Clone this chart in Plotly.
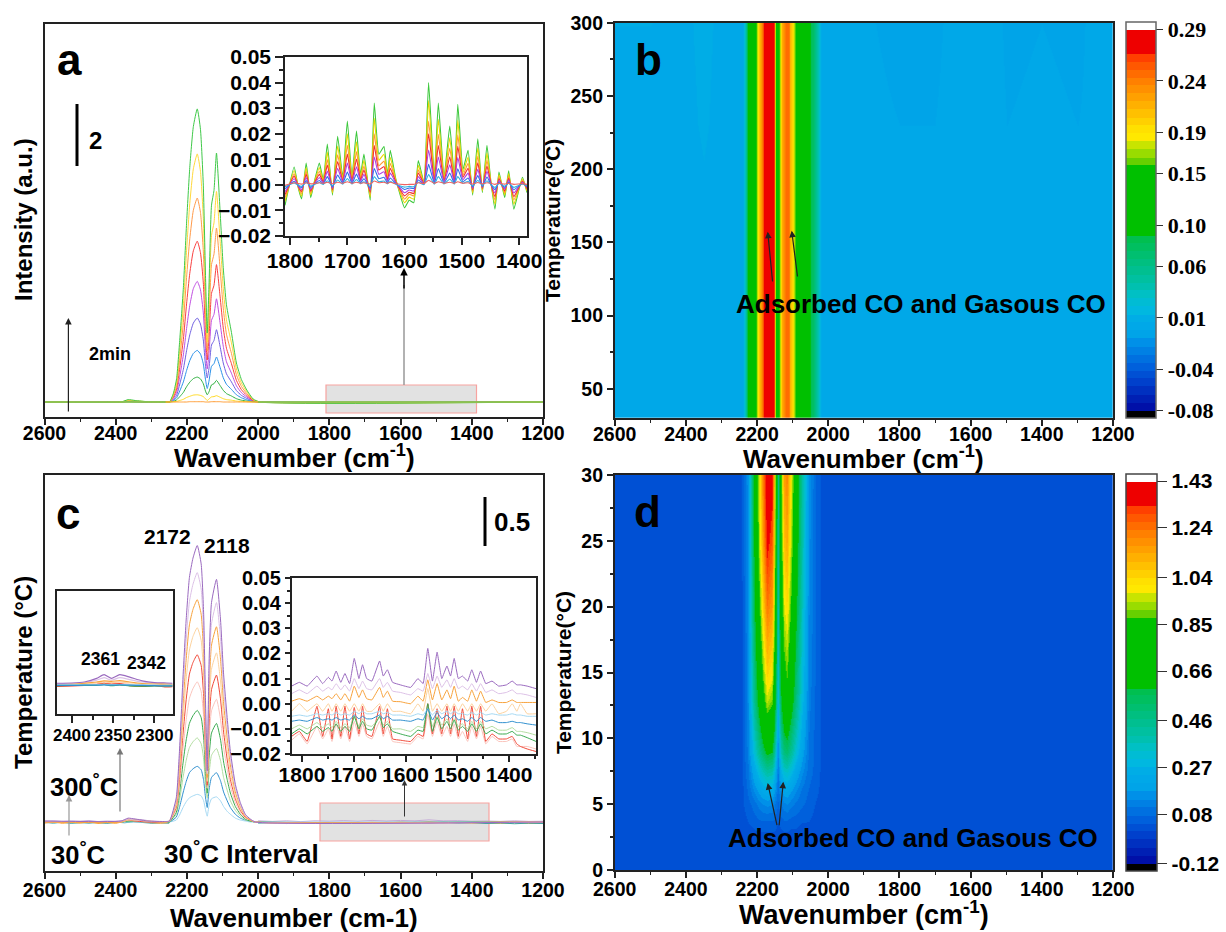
import numpy as np
import plotly.graph_objects as go

W, H = 1226, 932
SANS = "Liberation Sans"
SERIF = "Liberation Serif"

# ---------- panel a, main spectra ----------
WN_A = [2600,2385,2365,2345,2310,2260,2249,2238,2229,2220,2210,2201,2192,2182,2171,2162,2154,2148,2143,2138,2131,2124,2117,2107,2098,2089,2075,2061,2047,2032,2014,1995,1200]
A_GREEN  = [0,0,.08,.05,.01,0,0,.29,.78,2.1,3.81,5.96,7.82,9.18,9.77,9.09,7.23,4.3,2.3,3.9,6.56,7.05,8.3,6.39,4.48,3.24,2.32,1.3,.75,.4,.1,0,0]
A_YELLOW = [0,0,.06,.04,.01,0,0,.25,.66,1.78,3.23,5.04,6.62,7.77,8.27,7.69,6.12,3.64,2,3.3,5.55,5.97,7.02,5.41,3.79,2.74,1.97,1.1,.63,.34,.08,0,0]
A_ORANGE = [0,0,.05,.03,.01,0,0,.2,.54,1.46,2.65,4.15,5.44,6.39,6.8,6.32,5.03,2.99,1.7,2.73,4.58,4.93,5.8,4.47,3.13,2.26,1.62,.91,.52,.28,.07,0,0]
A_RED    = [0,0,.04,.02,0,0,0,.16,.43,1.15,2.09,3.27,4.29,5.04,5.36,4.98,3.97,2.36,1.4,2.15,3.62,3.89,4.58,3.53,2.47,1.79,1.28,.72,.41,.22,.05,0,0]
A_PURPLE = [0,0,.03,.02,0,0,0,.12,.32,.86,1.57,2.45,3.22,3.78,4.02,3.74,2.97,1.77,1.1,1.62,2.72,2.92,3.44,2.65,1.86,1.34,.96,.54,.31,.17,.04,0,0]
A_VIOLET = [0,0,.02,.01,0,0,0,.08,.22,.6,1.09,1.71,2.24,2.63,2.8,2.6,2.07,1.23,.8,1.13,1.9,2.05,2.41,1.86,1.3,.94,.67,.38,.22,.12,.03,0,0]
A_BLUE   = [0,0,.01,.01,0,0,0,.05,.14,.37,.67,1.05,1.38,1.62,1.72,1.6,1.27,.76,.45,.7,1.19,1.28,1.5,1.16,.81,.59,.42,.24,.14,.07,.02,0,0]
A_GREEN2 = [0,0,.01,0,0,0,0,.02,.07,.18,.32,.51,.66,.78,.83,.77,.61,.37,.24,.34,.57,.61,.72,.55,.39,.28,.2,.11,.06,.03,.01,0,0]
A_YELL2  = [0,0,0,0,0,0,0,.01,.02,.05,.09,.15,.19,.23,.24,.22,.18,.11,.05,.1,.17,.18,.21,.16,.11,.08,.06,.03,.02,.01,0,0,0]
A_ORANGE2 = [0,0,0,0,0,0,0,0,0,0,0,0,.01,.01,.01,.01,.01,0,0,0,.01,.01,.01,.01,0,0,0,0,0,0,0,0,0]
A_SERIES = [A_BLUE,A_VIOLET,A_PURPLE,A_RED,A_ORANGE,A_GREEN2,A_YELLOW,A_GREEN,A_YELL2,A_ORANGE2]
A_COLORS = ["#2a90e8","#7060e0","#c050e0","#f84040","#ff9a4a","#30b040","#ffd83c","#3fc848","#ffd820","#ff9a30"]
A_BASE_X = [2600,2260,None,2000,1200]
A_BASE_Y = [0,0,None,0,0]

# ---------- panel a, inset (values in 0.001 units) ----------
WN_INS_A = [1809,1793,1785,1780,1772,1764,1758,1749,1742,1735,1726,1717,1708,1700,1692,1684,1677,1671,1660,1653,1645,1636,1630,1625,1615,1600,1592,1584,1576,1566,1558,1548,1541,1531,1521,1513,1507,1498,1489,1481,1472,1464,1456,1449,1442,1435,1425,1418,1409,1394,1386]
IA_GREEN  = [-8,7,-2,-5.5,8.5,-5,1,8.5,2,16,-4,19,3,25,3,21,4,12,-6,32,12,15,4,13.5,2,-9,-6,-7,9.5,1,40,3,32,3,23,3,31.5,6,13.5,-4,18,-3,15.5,1,-9.5,5,-5,5.5,-9.5,3,-3]
IA_YELLOW = [-6.5,5.6,-1.6,-4.4,6.8,-4,.8,6.8,1.6,12.8,-3.2,15.2,2.4,20,2.4,16.8,3.2,9.6,-4.8,26,9.6,12,3.2,10.8,1.6,-7,-4.8,-5.6,7.6,.8,33,2.4,25.6,2.4,18.4,2.4,25.2,4.8,10.8,-3.2,14.4,-2.4,12.4,.8,-7.6,4,-4,4.4,-7.6,2.4,-2.4]
IA_ORANGE = [-5,4.3,-1.2,-3.4,5.3,-3.1,.6,5.3,1.2,9.9,-2.5,11.8,1.9,15.5,1.9,13,2.5,7.4,-3.7,20,7.4,9.3,2.5,8.4,1.2,-5.6,-3.7,-4.3,5.9,.6,25,1.9,19.8,1.9,14.3,1.9,19.5,3.7,8.4,-2.5,11.2,-1.9,9.6,.6,-5.9,3.1,-3.1,3.4,-5.9,1.9,-1.9]
IA_RED    = [-3.8,3.4,-1,-2.6,4.1,-2.4,.5,4.1,1,7.7,-1.9,9.1,1.4,12,1.4,10.1,1.9,5.8,-2.9,15.4,5.8,7.2,1.9,6.5,1,-4.3,-2.9,-3.4,4.6,.5,20,1.4,15.4,1.4,11,1.4,15.1,2.9,6.5,-1.9,8.6,-1.4,7.4,.5,-4.6,2.4,-2.4,2.6,-4.6,1.4,-1.4]
IA_PURPLE = [-2.7,2.4,-.7,-1.9,2.9,-1.7,.3,2.9,.7,5.4,-1.4,6.5,1,8.5,1,7.1,1.4,4.1,-2,10.9,4.1,5.1,1.4,4.6,.7,-3.1,-2,-2.4,3.2,.3,13.6,1,10.9,1,7.8,1,10.7,2,4.6,-1.4,6.1,-1,5.3,.3,-3.2,1.7,-1.7,1.9,-3.2,1,-1]
IA_BLUE   = [-1.6,1.4,-.4,-1.1,1.7,-1,.2,1.7,.4,3.2,-.8,3.8,.6,5,.6,4.2,.8,2.4,-1.2,6.4,2.4,3,.8,2.7,.4,-1.8,-1.2,-1.4,1.9,.2,8,.6,6.4,.6,4.6,.6,6.3,1.2,2.7,-.8,3.6,-.6,3.1,.2,-1.9,1,-1,1.1,-1.9,.6,-.6]
IA_GREEN2 = [-.8,.7,-.2,-.6,.9,-.5,.1,.9,.2,1.6,-.4,1.9,.3,2.5,.3,2.1,.4,1.2,-.6,3.2,1.2,1.5,.4,1.4,.2,-.9,-.6,-.7,1,.1,4,.3,3.2,.3,2.3,.3,3.2,.6,1.4,-.4,1.8,-.3,1.6,.1,-1,.5,-.5,.6,-1,.3,-.3]
IA_REDLOW = [-.2,.8,.5,.3,.8,.4,.5,.8,.6,1,.4,1,.6,1.2,.6,1,.6,.8,.3,1.5,.8,1,.6,1,.4,.1,.2,.2,.8,.5,1.8,.6,1.2,.6,1,.6,1.2,.6,.8,.3,.9,.4,.8,.6,.2,.6,.3,.6,.2,.5,.2]
IA_SERIES = [IA_GREEN,IA_YELLOW,IA_ORANGE,IA_RED,IA_PURPLE,IA_BLUE,IA_GREEN2,IA_REDLOW]
IA_COLORS = ["#3cc83c","#e8d800","#ff9a30","#f03030","#b040e0","#3070e8","#30b0e0","#f06060"]

# ---------- panel c, main spectra ----------
WN_C = [2600,2385,2365,2345,2310,2260,2249,2230,2221,2211,2202,2193,2183,2171,2160,2153,2148,2143,2138,2131,2117,2106,2097,2087,2078,2064,2050,2036,2022,2008,1200]
C_PURPLE  = [.01,.01,.04,.03,.01,.005,.01,.25,.73,1.5,2.1,2.53,2.73,2.86,2.67,2.15,1.29,.53,1.63,2.27,2.51,2.11,1.53,1.08,.73,.39,.2,.08,.03,0,0]
C_LPURPLE = [.01,.01,.03,.02,.01,.005,.01,.22,.66,1.35,1.89,2.28,2.46,2.58,2.41,1.94,1.16,.5,1.48,2.05,2.27,1.91,1.38,.98,.66,.35,.18,.07,.03,0,0]
C_ORANGE  = [0,0,.03,.02,.01,0,.01,.2,.59,1.21,1.69,2.04,2.2,2.3,2.15,1.73,1.04,.46,1.31,1.83,2.02,1.7,1.23,.87,.59,.31,.16,.06,.02,0,0]
C_LORANGE = [0,0,.02,.02,.01,0,.01,.17,.51,1.05,1.48,1.78,1.92,2.01,1.88,1.51,.91,.42,1.14,1.58,1.75,1.47,1.07,.75,.51,.27,.14,.06,.02,0,0]
C_RED     = [0,0,.02,.01,0,0,.01,.15,.44,.91,1.27,1.53,1.65,1.73,1.62,1.3,.78,.38,.99,1.37,1.52,1.28,.93,.65,.44,.24,.12,.05,.02,0,0]
C_LRED    = [0,0,.02,.01,0,0,.01,.13,.37,.76,1.06,1.28,1.38,1.45,1.35,1.09,.65,.35,.83,1.15,1.27,1.07,.77,.55,.37,.2,.1,.04,.02,0,0]
C_GREEN   = [0,0,.01,.01,0,0,0,.1,.29,.61,.85,1.02,1.1,1.155,1.08,.87,.52,.3,.66,.92,1.02,.86,.62,.44,.3,.16,.08,.03,.01,0,0]
C_LGREEN  = [0,0,.01,.01,0,0,0,.08,.22,.46,.64,.77,.83,.87,.81,.65,.39,.25,.49,.69,.76,.64,.46,.33,.22,.12,.06,.02,.01,0,0]
C_BLUE    = [0,0,.01,.01,0,0,0,.05,.15,.3,.42,.51,.55,.576,.54,.43,.26,.15,.33,.46,.51,.43,.31,.22,.15,.08,.04,.02,.01,0,0]
C_LBLUE   = [0,0,0,0,0,0,0,.02,.07,.15,.21,.25,.27,.286,.27,.22,.13,.06,.17,.24,.26,.22,.16,.11,.08,.04,.02,.01,0,0,0]
C_SERIES = [C_LBLUE,C_BLUE,C_LGREEN,C_GREEN,C_LRED,C_RED,C_LORANGE,C_ORANGE,C_LPURPLE,C_PURPLE]
C_COLORS = ["#a5d8f2","#2f8fce","#b2dda0","#3aaa50","#fac4bc","#f04a3a","#fcd29e","#f7a23c","#dcc0e6","#9a6abf"]
NOISE_X = [2600,2575,2550,2525,2500,2475,2450,2425,2400,2375,2350,2325,2300,2275,2250,None,2000,1960,1920,1880,1840,1800,1760,1720,1680,1640,1600,1560,1520,1480,1440,1400,1360,1320,1280,1240,1200]
NOISE_1 = [-.012,.002,-.014,-.004,-.012,.002,-.016,-.006,-.014,.006,.012,.01,-.01,-.014,-.008,None,-.004,-.012,-.006,-.014,-.004,-.012,-.006,-.012,-.002,-.01,0,-.008,.004,-.008,-.004,-.012,-.01,-.014,-.008,-.014,-.012]
NOISE_2 = [.006,.012,.004,.012,.008,.016,.004,.01,.006,.02,.03,.024,.008,.004,.006,None,.012,.006,.012,.004,.012,.008,.014,.008,.016,.01,.016,.012,.022,.012,.014,.008,.01,.006,.012,.006,.008]
NOISE_3 = [-.004,-.012,-.002,-.014,-.006,-.012,-.004,-.014,-.002,-.008,.002,-.006,-.012,-.006,-.012,None,-.012,-.006,-.016,-.008,-.014,-.006,-.014,-.004,-.012,-.004,-.014,-.004,-.01,-.002,-.012,-.006,-.016,-.01,-.018,-.012,-.016]

# ---------- panel c, right inset (values in 0.001 units) ----------
WN_INS_C = [1820,1805,1790,1771,1760,1749,1742,1734,1725,1717,1708,1699,1690,1683,1675,1665,1650,1643,1635,1625,1610,1590,1576,1566,1557,1548,1539,1530,1520,1513,1506,1498,1490,1480,1472,1463,1455,1445,1433,1420,1405,1394,1385,1378,1365,1348]
IC_PURPLE  = [7,8.5,7,11,8,10.5,9,13,8.5,12,8,18,10,15.5,10,9,17,11,13.5,8.5,7.5,6.5,10,8,22,9,20.5,10,15,11,18,10,11,9,13.5,8.5,13,8,9,7,7.5,9,7.5,7.5,7,6]
IC_LPURPLE = [4,5.5,4,7,5,6.5,5.5,8,5.5,7.5,5,10,6,9,6,5.5,10,6.5,8.5,5,4.5,3.5,6,5,12,6,11,6.5,9.5,6.5,10,6,7,5.5,8,5,8,4.5,5.5,4,4.5,5.5,4,4,3.5,2.5]
IC_ORANGE  = [1,2,1,3,1.5,3,2,4,1.5,4,1,7,2.5,5.5,2,1.5,6.5,2.5,5,1,.8,0,3,1,9.5,1.5,8,1.5,5.5,2,7,1,2.5,1,5.5,1,5,.5,1.5,.5,.5,1.5,.5,.5,.5,.5]
IC_LORANGE = [-3,0,-3,0,-3,0,-3,0,-3,0,-3,0,-3,0,-3,-3,0,-3,0,-3,-3,-4,0,-3,6,-3,0,-3,0,-3,0,-3,0,-3,0,-3,0,-3,0,-4,-3,0,-3,0,-4,-4]
IC_LBLUE   = [-5,-4.5,-5,-4,-4.5,-4,-4.5,-3.5,-4.5,-4,-4.5,-3,-4,-3,-4,-4,-3,-4,-3.5,-4.5,-4.5,-5,-4,-4.5,-2,-4.5,-2.5,-4,-3,-4,-3,-4,-4,-4.5,-3.5,-4.5,-3.5,-4.5,-4,-4.5,-4.5,-4,-4.5,-4.5,-5,-5]
IC_BLUE    = [-7,-6.5,-7,-5.5,-6.5,-6,-6.5,-5.5,-6.5,-6,-6.5,-4.5,-6,-5,-6,-6,-4.5,-6,-5,-6.5,-6.5,-7,-6,-6.5,-2,-6.5,-3.5,-6,-4.5,-6,-4.5,-6.5,-6,-7,-5.5,-7,-5.5,-7,-6.5,-7.5,-7.5,-7,-7.5,-7.5,-8,-8.5]
IC_LGREEN  = [-10,-8.5,-10,-7.5,-9.5,-8,-9.5,-7,-9.5,-8,-9.5,-5.5,-9,-6,-8.5,-9,-5.5,-8.5,-7,-10,-10,-11,-9,-9.5,-1.5,-9,-5,-8.5,-6,-8.5,-6,-9,-8,-10,-7,-10,-7,-10,-9,-10.5,-10.5,-9.5,-11,-11,-11.5,-12.5]
IC_GREEN   = [-12,-10,-12,-9,-11,-9.5,-11,-8,-11,-9,-11,-5,-10,-7,-10,-10.5,-5,-9.5,-8,-11,-12,-13,-10.5,-11,0,-11,-5.5,-10,-7,-10,-6.5,-10.5,-9,-11,-8,-11,-8,-12,-10.5,-12,-12,-11,-12.5,-12.5,-13.5,-15]
IC_RED     = [-13,-11,-15,-1,-13,-2,-14,-1,-13,-1,-14,-1.5,-12,-1,-12,-13,-1,-12,-2,-14,-14.5,-15,-12,-13,0,-12,-2,-12,-1,-12,-1,-13,-2,-14,-1,-13,-1,-15,-12,-14,-14,-13,-16,-17,-18,-19]
IC_LRED    = [-14.5,-12,-16,-9,-14,-10,-15,-8,-14,-9,-15,-7,-13,-8,-13,-14,-7,-13,-9,-15,-15.5,-16,-13,-14,-4,-13,-7,-13,-9,-13,-8,-14,-11,-15,-9,-14,-9,-16,-13,-15,-15,-14,-17,-17,-17,-18]
IC_SERIES = [IC_LORANGE,IC_LRED,IC_RED,IC_LGREEN,IC_GREEN,IC_LBLUE,IC_BLUE,IC_LPURPLE,IC_ORANGE,IC_PURPLE]
IC_COLORS = ["#fcd29e","#fac4bc","#f04a3a","#b2dda0","#3aaa50","#a5d8f2","#2f8fce","#dcc0e6","#f7a23c","#9a6abf"]

# ---------- panel c, left inset ----------
WN_INS_L = [2418,2400,2385,2370,2361,2352,2342,2330,2315,2300,2285,2278]
IL_PURPLE  = [.01,.012,.02,.05,.08,.05,.08,.06,.03,.015,.012,.01]
IL_LPURPLE = [.005,.008,.014,.035,.055,.035,.055,.04,.02,.01,.008,.006]
IL_ORANGE  = [0,.002,.01,.02,.03,.025,.032,.02,.008,.004,.002,0]
IL_LORANGE = [-.003,0,.005,.012,.02,.015,.02,.012,.004,0,0,-.002]
IL_RED     = [-.015,-.012,-.008,0,.01,.002,.008,-.01,-.015,-.01,-.02,-.018]
IL_LRED    = [-.012,-.01,-.005,.004,.012,.005,.012,0,-.01,-.006,-.012,-.012]
IL_GREEN   = [-.01,-.008,-.006,-.008,0,-.01,-.004,-.012,-.014,-.012,-.012,-.012]
IL_LGREEN  = [-.007,-.006,-.003,-.004,.004,-.004,0,-.008,-.008,-.008,-.01,-.008]
IL_BLUE    = [-.008,-.007,-.006,-.005,-.004,-.006,-.004,-.006,-.008,-.01,-.012,-.012]
IL_LBLUE   = [-.004,-.004,-.002,-.002,0,-.002,0,-.002,-.004,-.006,-.006,-.006]
IL_SERIES = [IL_LPURPLE,IL_PURPLE,IL_LORANGE,IL_ORANGE,IL_LRED,IL_RED,IL_LGREEN,IL_GREEN,IL_LBLUE,IL_BLUE]
IL_COLORS = ["#dcc0e6","#9a6abf","#fcd29e","#f7a23c","#fac4bc","#f04a3a","#b2dda0","#3aaa50","#a5d8f2","#2f8fce"]

# ---------- panel b, map ----------
B_WN = [1200,1300,1400,1500,1600,1700,1800,1900,2015,2020,2030,2042,2055,2070,2090,2095,2100,2108,2112,2120,2131,2135,2138,2143,2147,2150,2152,2160,2175,2182,2185,2195,2200,2205,2225,2230,2235,2240,2245,2290,2350,2420,2500,2600]
B_TEMP = [30,170,230,300]
B_ROW_30  = [0,0,0,0,0,0,0,0,0,.01,.04,.07,.1,.12,.14,.16,.19,.22,.25,.25,.22,.19,.15,.12,.15,.19,.27,.285,.285,.27,.25,.2,.17,.13,.1,.07,.03,.005,0,0,0,0,0,0]
B_ROW_170 = [0,0,0,0,0,0,0,0,0,.01,.04,.07,.1,.12,.14,.16,.19,.22,.25,.25,.22,.19,.15,.12,.15,.19,.27,.285,.285,.27,.25,.2,.17,.13,.1,.07,.03,.005,0,0,.004,0,0,0]
B_ROW_230 = [0,-.002,-.001,-.002,.004,-.002,-.002,0,0,.01,.04,.07,.1,.12,.14,.16,.19,.22,.25,.25,.22,.19,.15,.12,.15,.19,.27,.285,.285,.27,.25,.2,.17,.13,.1,.07,.03,.005,0,.002,.007,.002,0,0]
B_ROW_300 = [.002,-.003,-.002,-.003,.005,-.004,-.004,-.001,0,.01,.04,.07,.1,.12,.14,.16,.19,.22,.25,.25,.22,.19,.15,.12,.15,.19,.27,.285,.285,.27,.25,.2,.17,.13,.1,.07,.03,.005,0,.003,.008,.003,.006,.006]
B_Z = [B_ROW_30,B_ROW_170,B_ROW_230,B_ROW_300]
B_TICKS = [-.08,-.04,.01,.06,.10,.15,.19,.24,.29]
B_TICKTEXT = ["-0.08","-0.04","0.01","0.06","0.10","0.15","0.19","0.24","0.29"]

# ---------- panel d, map ----------
D_WN = [1200,2005,2015,2035,2055,2075,2092,2105,2117,2125,2135,2143,2152,2160,2172,2185,2195,2210,2225,2240,2250,2600]
D_TIME = [0,2.5,3.5,5,6,7.5,9,11,13,15,20,25,30]
D_T0   = [.02,.02,.02,.02,.02,.02,.02,.02,.02,.02,.02,.02,.02,.02,.02,.02,.02,.02,.02,.02,.02,.02]
D_T2_5 = [.02,.02,.02,.02,.025,.025,.03,.03,.03,.03,.03,.025,.03,.03,.03,.03,.03,.03,.025,.02,.02,.02]
D_T3_5 = [.02,.02,.025,.03,.04,.04,.05,.05,.06,.06,.05,.04,.06,.06,.06,.06,.06,.05,.04,.03,.02,.02]
D_T5   = [.02,.02,.03,.04,.06,.08,.1,.12,.14,.13,.11,.07,.12,.14,.15,.14,.12,.09,.06,.04,.02,.02]
D_T6   = [.02,.02,.03,.05,.07,.1,.14,.18,.21,.2,.16,.09,.19,.23,.24,.22,.19,.14,.08,.04,.02,.02]
D_T7_5 = [.02,.02,.03,.06,.09,.15,.22,.3,.35,.33,.26,.11,.33,.4,.42,.37,.31,.22,.1,.05,.02,.02]
D_T9   = [.02,.02,.03,.06,.1,.2,.32,.44,.52,.49,.38,.15,.48,.59,.62,.54,.44,.31,.12,.05,.02,.02]
D_T11  = [.02,.02,.03,.06,.11,.25,.41,.56,.67,.63,.49,.22,.62,.76,.8,.69,.56,.38,.13,.05,.02,.02]
D_T13  = [.02,.02,.03,.06,.12,.3,.49,.68,.81,.76,.58,.28,.75,.91,.96,.82,.66,.44,.14,.05,.02,.02]
D_T15  = [.02,.02,.03,.07,.13,.32,.53,.74,.89,.83,.64,.32,.83,1,1.05,.9,.72,.47,.14,.05,.02,.02]
D_T20  = [.02,.02,.03,.07,.14,.37,.62,.86,1.03,.97,.74,.37,.97,1.17,1.23,1.05,.84,.55,.15,.05,.02,.02]
D_T25  = [.02,.02,.03,.07,.15,.41,.68,.95,1.14,1.08,.81,.41,1.08,1.29,1.36,1.16,.93,.6,.15,.06,.02,.02]
D_T30  = [.02,.02,.03,.07,.16,.43,.72,1,1.21,1.15,.86,.43,1.15,1.37,1.41,1.22,.97,.64,.16,.06,.02,.02]
D_Z = [D_T0,D_T2_5,D_T3_5,D_T5,D_T6,D_T7_5,D_T9,D_T11,D_T13,D_T15,D_T20,D_T25,D_T30]
D_TICKS = [-.12,.08,.27,.46,.66,.85,1.04,1.24,1.43]
D_TICKTEXT = ["-0.12","0.08","0.27","0.46","0.66","0.85","1.04","1.24","1.43"]

# shared stepped palette, bottom to top
BAND_EDGES = [1225,1203,1180,1155,1130,1105,1083,1060,1035,1012,985,962,938,915,890,866,842,820,795,770,748,725,700,680,468,445,420,395,370,348,325,300,275,252,228,205,182,158,135,62,38]
BAND_COLORS = ["#000000","#0010a8","#0020b4","#0030c0","#0040cc","#0050d4","#0060dc","#0070e0","#0080e4","#0090e8","#00a4e8","#00a8e8","#00ade6","#00b8e0","#00bcd4","#00c0c4","#00c0b0","#00c0a0","#00bf90","#00bf80","#00bf70","#00bf60","#00bf50","#00c000","#66d000","#99dc00","#c8e400","#ffe800","#ffe000","#ffd000","#ffc000","#ffb000","#ffa000","#ff9000","#ff8000","#ff6c00","#ff5800","#ff4000","#ee0000","#ffffff"]

span = BAND_EDGES[0] - BAND_EDGES[-1]
colorscale = []
for i, c in enumerate(BAND_COLORS):
    colorscale.append([(BAND_EDGES[0] - BAND_EDGES[i]) / span, c])
    colorscale.append([(BAND_EDGES[0] - BAND_EDGES[i + 1]) / span, c])


def px_x(x):
    return x / W


def px_y(y):
    return 1 - y / H


def dom_x(a, b):
    return [a / W, b / W]


def dom_y(top, bottom):
    return [1 - bottom / H, 1 - top / H]


def tickf(size, family=SANS):
    return dict(family=family, size=size, color="black", weight=700)


fig = go.Figure()


def add_lines(xs, series, colors, ax, width=1.0, smooth=0.0):
    for ys, col in zip(series, colors):
        line = dict(color=col, width=width, shape="spline" if smooth else "linear")
        if smooth:
            line["smoothing"] = smooth
        fig.add_trace(go.Scatter(x=xs, y=ys, mode="lines", xaxis=f"x{ax}", yaxis=f"y{ax}", line=line,
                                 showlegend=False, hoverinfo="skip"))


add_lines(WN_A, A_SERIES, A_COLORS, 1, 1.0, 0.5)
add_lines(A_BASE_X, [A_BASE_Y], ["#3fcf70"], 1, 1.2)
add_lines(WN_INS_A, [np.array(s) / 1000 for s in IA_SERIES], IA_COLORS, 2, 1.1, 0.4)
add_lines(NOISE_X, [NOISE_1, NOISE_2, NOISE_3], ["#f7a23c", "#c4a8d8", "#3aa0a0"], 4, 1.0)
add_lines(WN_C, C_SERIES, C_COLORS, 4, 1.0, 0.5)
add_lines(WN_INS_C, [np.array(s) / 1000 for s in IC_SERIES], IC_COLORS, 5, 1.0, 0.3)
add_lines(WN_INS_L, IL_SERIES, IL_COLORS, 6, 1.2, 0.5)

zmin_b = -.08 - (1225 - 1203) / (1203 - 60) * .37
zmax_b = .29 + (60 - 38) / (1203 - 60) * .37
fig.add_trace(go.Heatmap(x=B_WN, y=B_TEMP, z=B_Z, xaxis="x3", yaxis="y3", zmin=zmin_b, zmax=zmax_b,
                         colorscale=colorscale, zsmooth="best", hoverinfo="skip",
                         colorbar=dict(x=1126 / W, xanchor="left", y=1 - 418 / H, yanchor="bottom", yref="paper",
                                       lenmode="pixels", len=395.5, thicknessmode="pixels", thickness=30,
                                       xpad=0, ypad=0, tickvals=B_TICKS, ticktext=B_TICKTEXT, ticks="outside",
                                       ticklen=7, tickcolor="#333", outlinecolor="#666", outlinewidth=1.5,
                                       tickfont=tickf(22, SERIF))))
zmin_d = -.12 - (1217 - 1195) / (1195 - 48) * 1.55
zmax_d = 1.43 + (48 - 27) / (1195 - 48) * 1.55
fig.add_trace(go.Heatmap(x=D_WN, y=D_TIME, z=D_Z, xaxis="x7", yaxis="y7", zmin=zmin_d, zmax=zmax_d,
                         colorscale=colorscale, zsmooth="best", hoverinfo="skip",
                         colorbar=dict(x=1126 / W, xanchor="left", y=1 - 871 / H, yanchor="bottom", yref="paper",
                                       lenmode="pixels", len=397, thicknessmode="pixels", thickness=31,
                                       xpad=0, ypad=0, tickvals=D_TICKS, ticktext=D_TICKTEXT, ticks="outside",
                                       ticklen=10, tickcolor="#333", outlinecolor="#444", outlinewidth=1.5,
                                       tickfont=tickf(21))))

AX = dict(showgrid=False, zeroline=False, showline=True, mirror=True, linecolor="#222", linewidth=1.5,
          ticks="outside", tickcolor="#222", tickwidth=1.5)


def main_x(a, b, pull):
    return dict(AX, domain=dom_x(a, b), range=[2600, 1200], tick0=1200, dtick=200, ticklen=6, ticklabelstandoff=pull,
                minor=dict(dtick=100, tick0=1200, ticks="outside", ticklen=3, tickcolor="#222", tickwidth=1),
                tickfont=tickf(19.5))


layout = dict(width=W, height=H, margin=dict(l=0, r=0, t=0, b=0, autoexpand=False), paper_bgcolor="white",
              plot_bgcolor="rgba(0,0,0,0)", showlegend=False)

# panel a
layout["xaxis"] = dict(main_x(44.5, 543, -8), anchor="y")
layout["yaxis"] = dict(AX, domain=dom_y(24, 417), range=[-.5, 12.6], showticklabels=False, ticks="", anchor="x")
# inset a
layout["xaxis2"] = dict(AX, domain=dom_x(285, 527), range=[1809, 1386], anchor="y2", tick0=1400, dtick=100, ticklen=7,
                        ticklabelstandoff=-2, tickangle=0, tickfont=tickf(21),
                        minor=dict(dtick=50, tick0=1400, ticks="outside", ticklen=4, tickcolor="#222"))
layout["yaxis2"] = dict(AX, domain=dom_y(57, 236), range=[-.02, .05], anchor="x2", dtick=.01, ticklen=8, tickformat=".2f",
                        tickfont=tickf(21), minor=dict(dtick=.005, ticks="outside", ticklen=4, tickcolor="#222"))
# panel b
layout["xaxis3"] = dict(main_x(614.7, 1113, -8), anchor="y3")
layout["yaxis3"] = dict(AX, domain=dom_y(22.7, 418), range=[30, 300], anchor="x3", tickvals=[50, 100, 150, 200, 250, 300],
                        ticklen=6, tickfont=tickf(19.5), minor=dict(dtick=25, ticks="outside", ticklen=3, tickcolor="#222"),
                        title=dict(text="Temperature(°C)", font=tickf(21), standoff=4))
# panel c
layout["xaxis4"] = dict(main_x(44.5, 543, -5), anchor="y4")
layout["yaxis4"] = dict(AX, domain=dom_y(475, 871), range=[-.507, 3.59], showticklabels=False, ticks="", anchor="x4")
# inset c right
layout["xaxis5"] = dict(AX, domain=dom_x(291.6, 536), range=[1820, 1348], anchor="y5", tick0=1400, dtick=100, ticklen=6,
                        ticklabelstandoff=-5, tickangle=0, tickfont=tickf(21),
                        minor=dict(dtick=50, tick0=1400, ticks="outside", ticklen=3, tickcolor="#222"))
layout["yaxis5"] = dict(AX, domain=dom_y(578, 754), range=[-.02, .05], anchor="x5", dtick=.01, ticklen=5, tickformat=".2f",
                        tickfont=tickf(20), minor=dict(dtick=.005, ticks="outside", ticklen=3, tickcolor="#222"))
# inset c left
layout["xaxis6"] = dict(AX, domain=dom_x(56.5, 172.6), range=[2418.6, 2278], anchor="y6", tickvals=[2400, 2350, 2300], ticklen=7,
                        tickangle=0, tickfont=tickf(17), ticklabelstandoff=-2,
                        minor=dict(dtick=25, tick0=2300, ticks="outside", ticklen=4, tickcolor="#222"))
layout["yaxis6"] = dict(AX, domain=dom_y(591, 714), range=[-.24, .76], anchor="x6", showticklabels=False, ticks="")
# panel d
layout["xaxis7"] = dict(main_x(614.7, 1113, -5), anchor="y7")
layout["yaxis7"] = dict(AX, domain=dom_y(475, 870), range=[0, 30], anchor="x7", dtick=5, ticklen=6, tickfont=tickf(19.5),
                        minor=dict(dtick=2.5, ticks="outside", ticklen=3, tickcolor="#222"),
                        title=dict(text="Temperature(°C)", font=tickf(21), standoff=4))


def label(x, y, text, size, family=SANS, angle=0):
    return dict(x=px_x(x), y=px_y(y), xref="paper", yref="paper", text=text, showarrow=False, textangle=angle,
                xanchor="center", yanchor="middle", font=tickf(size, family))


def arrow(x0, y0, x1, y1, color="#222", width=1.2, size=1.1):
    return dict(x=px_x(x1), y=px_y(y1), xref="paper", yref="paper", ax=x0 - x1, ay=y0 - y1, axref="pixel", ayref="pixel",
                text="", showarrow=True, arrowhead=2, arrowsize=size, arrowwidth=width, arrowcolor=color)


CM = "Wavenumber (cm<sup>-1</sup>)"
layout["annotations"] = [
    label(294, 456, CM, 26), label(863, 457, CM, 26), label(294, 918, "Wavenumber (cm-1)", 26), label(864, 913, CM, 27),
    label(23, 220, "Intensity (a.u.)", 24, angle=-90), label(23, 673, "Temperature (°C)", 24, angle=-90),
    label(69, 60, "a", 44), label(648, 60, "b", 44), label(68, 513, "c", 44), label(647, 511, "d", 44),
    label(96, 140, "2", 24), label(109.5, 354, "2min", 18),
    label(512, 522, "0.5", 26), label(167, 536, "2172", 21), label(227, 545, "2118", 21),
    label(84, 785, "300<sup>°</sup>C", 25.5), label(78, 853, "30<sup>°</sup>C", 25.5),
    label(241, 852, "30<sup>°</sup>C Interval", 26),
    label(100, 659, "2361", 17.5), label(146, 663, "2342", 17.5),
    label(921, 304, "Adsorbed CO and Gasous CO", 26), label(913, 838, "Adsorbed CO and Gasous CO", 26),
    arrow(68.4, 413, 68.4, 318), arrow(404, 290, 404, 268, "black", 1.5, 1.0),
    arrow(69, 837, 69, 795, "#999"), arrow(120, 813, 120, 748, "#777"), arrow(404.5, 818, 404.5, 780, "#333", 1.0),
    arrow(772.7, 283, 767.7, 231.7), arrow(797.7, 278, 791.7, 230.7),
    arrow(777.3, 826.7, 767.7, 783), arrow(779, 826.7, 783.3, 781.7),
]


def rect(x0, x1, y0, y1):
    return dict(type="rect", xref="paper", yref="paper", x0=px_x(x0), x1=px_x(x1), y0=px_y(y1), y1=px_y(y0),
                fillcolor="#e2e2e2", line=dict(color="#f7a3a0", width=1.2), layer="below")


def bar(x, y0, y1, color="black", width=3):
    return dict(type="line", xref="paper", yref="paper", x0=px_x(x), x1=px_x(x), y0=px_y(y0), y1=px_y(y1),
                line=dict(color=color, width=width))


layout["shapes"] = [rect(326, 476.5, 385, 413), rect(320, 489, 803, 841), bar(77, 104, 166), bar(485, 497, 546),
                    bar(404, 385, 285, "#999", 1.5)]

fig.update_layout(**layout)
fig.write_html("out.html", config=dict(displayModeBar=False), post_script="document.body.style.margin='0';")
